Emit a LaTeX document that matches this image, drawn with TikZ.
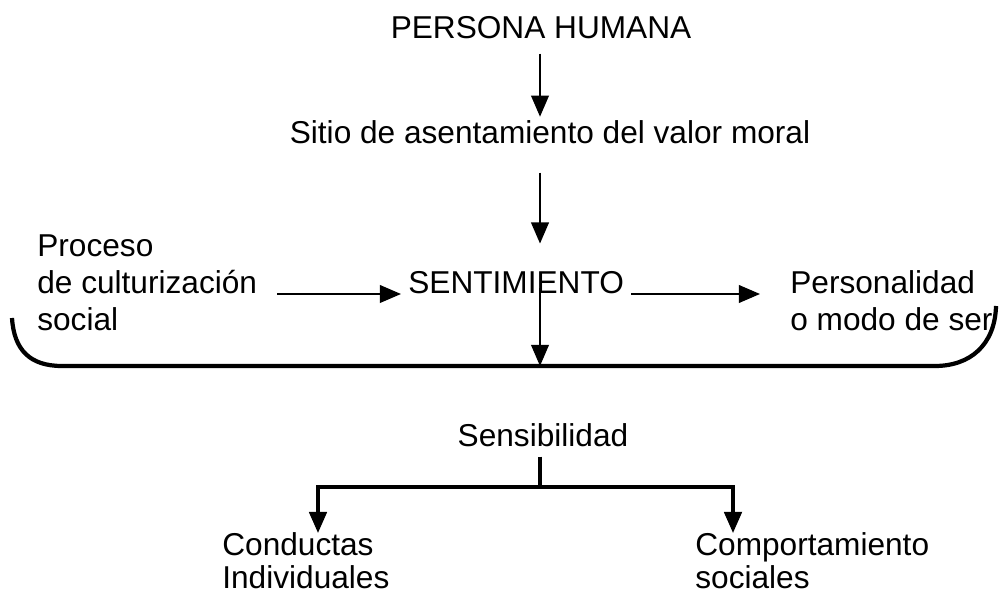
\documentclass[tikz,border=0pt]{standalone}
\usepackage{fontspec}
\setmainfont{Liberation Sans}
\usetikzlibrary{arrows.meta}

\begin{document}
\begin{tikzpicture}[x=0.02cm,y=-0.02cm,
  txt/.style={inner sep=0pt,font=\fontsize{18}{21.5}\selectfont},
  arr/.style={line width=1.2pt,-{Triangle[width=10pt,length=12pt]}},
  treearr/.style={line width=1.8pt,-{Triangle[width=10pt,length=12pt]}},
  brace/.style={line width=2.4pt}]
\useasboundingbox (0,0) rectangle (1000,594);

\node[txt,anchor=base] (persona) at (541,39) {PERSONA HUMANA};
\node[txt,anchor=base] (sitio) at (550,144) {Sitio de asentamiento del valor moral};

\node[txt,anchor=base west] (proc1) at (37,257) {Proceso};
\node[txt,anchor=base west] (proc2) at (37,294) {de culturización};
\node[txt,anchor=base west] (proc3) at (37,331) {social};
\node[txt,anchor=base west] (senti) at (408,294) {SENTIMIENTO};
\node[txt,anchor=base west] (pers1) at (790,294) {Personalidad};
\node[txt,anchor=base west] (pers2) at (790,331) {o modo de ser};

\node[txt,anchor=base] (sens) at (543,446) {Sensibilidad};
\node[txt,anchor=base west] (cond1) at (222,555) {Conductas};
\node[txt,anchor=base west] (cond2) at (222,588) {Individuales};
\node[txt,anchor=base west] (comp1) at (695,555) {Comportamiento};
\node[txt,anchor=base west] (comp2) at (695,588) {sociales};

\coordinate (bracemid) at (540,366);
\coordinate (fork) at (540,487);
\coordinate (tipL) at (318,533);
\coordinate (tipR) at (733,533);

\draw[arr,shorten <=0.28cm,shorten >=0.08cm] (persona.south -| bracemid) -- (sitio.north -| bracemid);
\draw[arr,shorten <=0.56cm,shorten >=0.56cm] (sitio.south -| bracemid) -- (senti.north -| bracemid);
\draw[arr,shorten <=0.4cm,shorten >=0.14cm] (proc2.base east) -- (senti.base west);
\draw[arr,shorten <=0.14cm,shorten >=0.6cm] (senti.base east) -- (pers1.base west);
\draw[arr] ([yshift=-0.1cm]senti.center -| bracemid) -- (bracemid);

\draw[brace] (12,318) .. controls (14,350) and (30,366) .. (62,366) -- (935,366)
  .. controls (970,366) and (995,345) .. (996,306);

\draw[treearr,-] ([yshift=-0.2cm]sens.south -| fork) -- (fork);
\draw[treearr] (fork) -| (tipL);
\draw[treearr] (fork) -| (tipR);
\end{tikzpicture}
\end{document}
